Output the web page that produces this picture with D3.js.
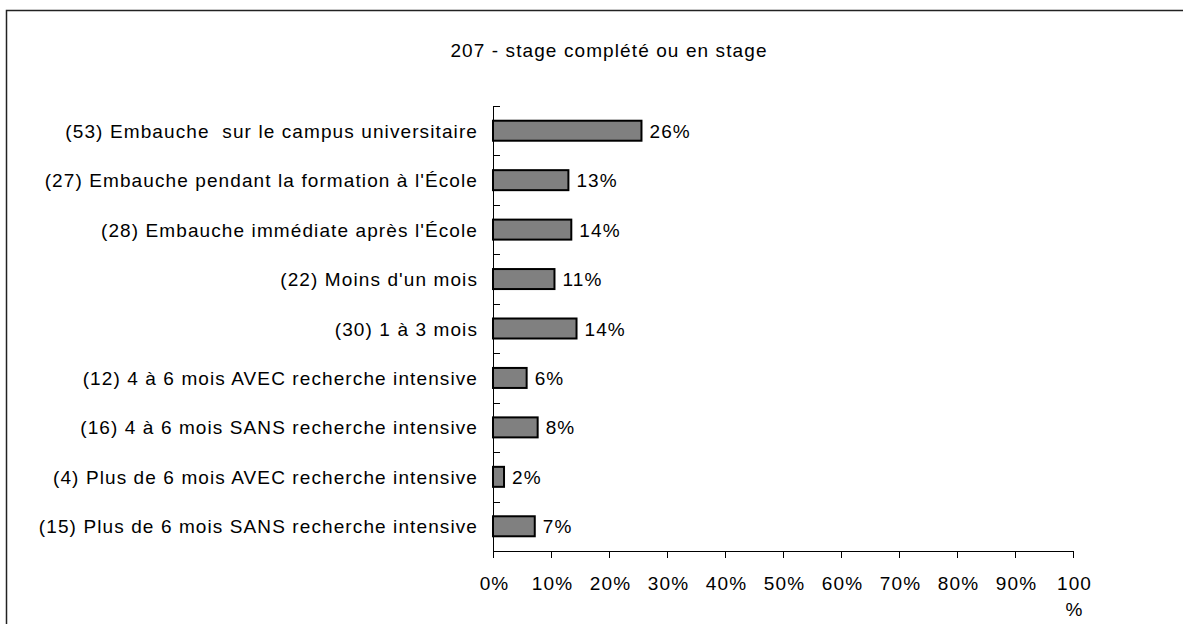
<!DOCTYPE html>
<meta charset="utf-8">
<style>
body { margin: 0; background: #fff; }
svg text { font-family: "Liberation Sans", Arial, sans-serif; font-size: 19px; letter-spacing: 1.1px; fill: #000; }
</style>
<svg width="1183" height="624"></svg>
<script src="https://d3js.org/d3.v7.min.js"></script>
<script>
var title = "207 - stage complété ou en stage";

var categories = [
  "(53) Embauche  sur le campus universitaire",
  "(27) Embauche pendant la formation à l'École",
  "(28) Embauche immédiate après l'École",
  "(22) Moins d'un mois",
  "(30) 1 à 3 mois",
  "(12) 4 à 6 mois AVEC recherche intensive",
  "(16) 4 à 6 mois SANS recherche intensive",
  "(4) Plus de 6 mois AVEC recherche intensive",
  "(15) Plus de 6 mois SANS recherche intensive"
];

var values = [25.6, 13.0, 13.5, 10.6, 14.4, 5.8, 7.7, 1.9, 7.2];

var xTicks = [0, 10, 20, 30, 40, 50, 60, 70, 80, 90, 100];
</script>
<script>
var svg = d3.select("svg");

// outer frame (runs off the right and bottom edges)
svg.append("path")
    .attr("d", "M6.5,630 V10.5 H1190")
    .attr("fill", "none")
    .attr("stroke", "#222")
    .attr("stroke-width", 1.5);

var x = d3.scaleLinear().domain([0, 100]).range([493, 1073]);
var y = d3.scaleBand().domain(categories).range([106, 551]);

svg.append("text")
    .attr("x", 609)
    .attr("y", 57)
    .attr("text-anchor", "middle")
    .text(title);

// bars
svg.append("g")
  .selectAll("rect")
  .data(values)
  .enter().append("rect")
    .attr("x", x(0))
    .attr("y", function(d, i) { return y(categories[i]) + y.bandwidth() / 2 - 10; })
    .attr("width", function(d) { return x(d) - x(0); })
    .attr("height", 20)
    .attr("fill", "#808080")
    .attr("stroke", "#000")
    .attr("stroke-width", 2);

// value labels
svg.append("g")
  .selectAll("text")
  .data(values)
  .enter().append("text")
    .attr("x", function(d) { return x(d) + 8; })
    .attr("y", function(d, i) { return y(categories[i]) + y.bandwidth() / 2 + 7; })
    .text(function(d) { return Math.round(d) + "%"; });

// category labels
svg.append("g")
  .selectAll("text")
  .data(categories)
  .enter().append("text")
    .attr("x", 478)
    .attr("y", function(d) { return y(d) + y.bandwidth() / 2 + 7; })
    .attr("text-anchor", "end")
    .style("white-space", "pre")
    .text(function(d) { return d; });

// y axis with ticks between categories
var yAxis = svg.append("g").attr("stroke", "#000").attr("stroke-width", 1);
yAxis.append("line")
    .attr("x1", x(0) + 0.5).attr("x2", x(0) + 0.5)
    .attr("y1", y.range()[0]).attr("y2", y.range()[1]);
yAxis.selectAll("line.tk")
  .data(categories)
  .enter().append("line")
    .attr("class", "tk")
    .attr("x1", x(0)).attr("x2", x(0) + 7)
    .attr("y1", function(d) { return Math.round(y(d)) + 0.5; })
    .attr("y2", function(d) { return Math.round(y(d)) + 0.5; });

// x axis
var xAxis = svg.append("g")
    .attr("transform", "translate(0," + 551 + ")")
    .call(d3.axisBottom(x).tickValues(xTicks).tickSize(7).tickSizeOuter(0).tickFormat(function(d) { return d + "%"; }));
xAxis.select(".domain").attr("stroke", "#000");
xAxis.selectAll(".tick line").attr("stroke", "#000");
xAxis.selectAll(".tick text")
    .attr("x", 1)
    .attr("y", 39)
    .attr("dy", 0)
    .style("font-family", "\"Liberation Sans\", Arial, sans-serif")
    .style("font-size", "19px")
    .attr("fill", "#000")
    .each(function(d) {
      if (d === 100) {
        var t = d3.select(this).text("");
        t.append("tspan").attr("x", 1).text("100");
        t.append("tspan").attr("x", 1).attr("dy", 26).text("%");
      }
    });
</script>
